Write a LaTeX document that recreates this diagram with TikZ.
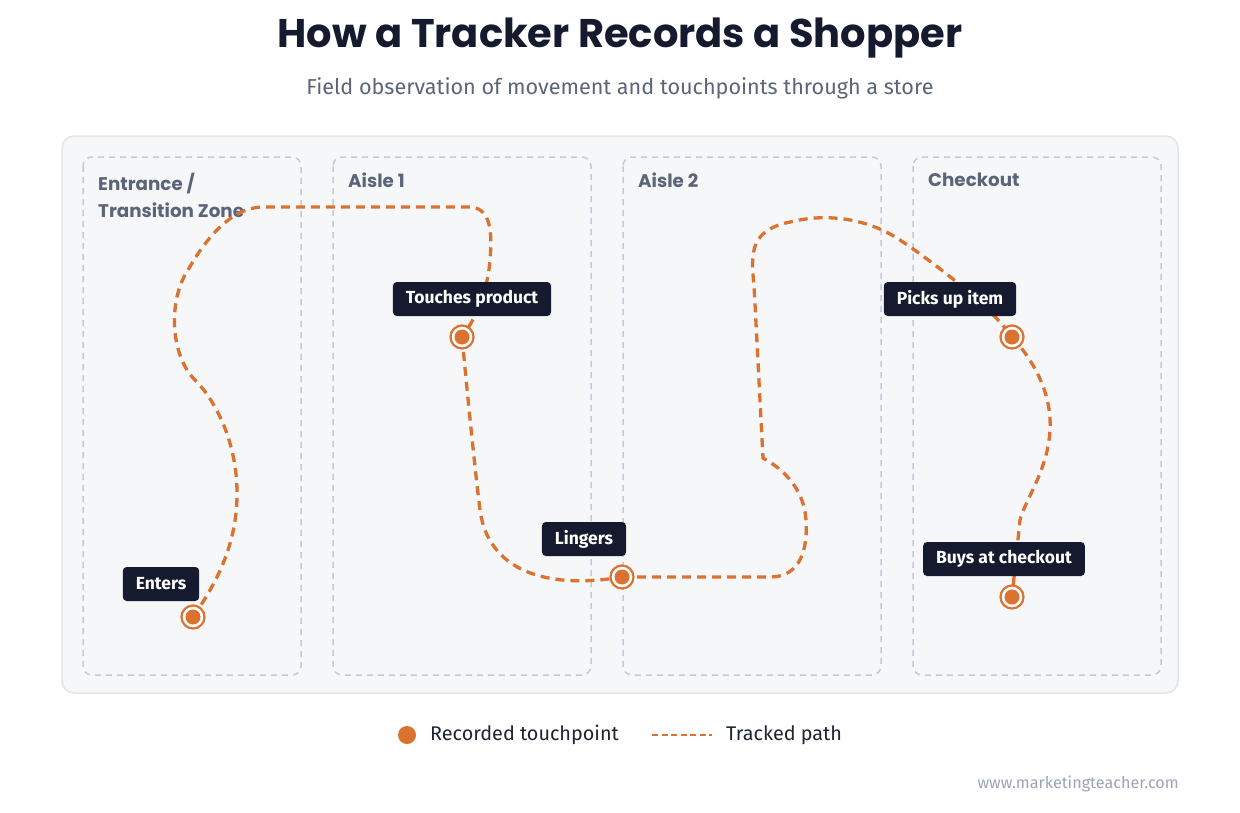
\documentclass[tikz,border=0pt]{standalone}
\usepackage{fontspec}
\setmainfont{Fira Sans}
\newfontfamily\titlefont{Poppins}
\definecolor{ink}{HTML}{151A2E}
\definecolor{trk}{HTML}{DB7230}
\definecolor{panel}{HTML}{F6F7F9}
\definecolor{panelline}{HTML}{E2E5EA}
\definecolor{zoneline}{HTML}{C5CAD8}
\definecolor{zonetext}{HTML}{5B6478}
\definecolor{subtext}{HTML}{5B6478}
\definecolor{foot}{HTML}{9BA4B8}
\definecolor{legtext}{HTML}{1F2433}
\tikzset{
  zonebox/.style={draw=zoneline, line width=1.5pt, dash pattern=on 6pt off 5pt, rounded corners=9pt},
  zonelabel/.style={anchor=north west, inner sep=0pt, text=zonetext, font=\titlefont\bfseries\fontsize{18.3}{27}\selectfont, align=left},
  lbl/.style={fill=ink, text=white, rounded corners=4pt, minimum height=34pt, inner xsep=13pt, inner ysep=0pt, font=\bfseries\fontsize{17.5}{20}\selectfont},
  tp/.style={circle, draw=trk, line width=2.2pt, fill=white, minimum size=23pt, inner sep=0pt,
    path picture={\fill[trk] (path picture bounding box.center) circle (7.5pt);}},
  trackpath/.style={draw=trk, line width=3.3pt, dash pattern=on 9pt off 6pt}
}
\begin{document}
\begin{tikzpicture}[x=1pt,y=-1pt]
\useasboundingbox (0,0) rectangle (1240,812);
\fill[white] (0,0) rectangle (1240,812);
% title
\node[font=\titlefont\bfseries\fontsize{40}{48}\selectfont, text=ink] (title) at (620,38) {How a Tracker Records a Shopper};
\node[font=\fontsize{21.6}{26}\selectfont, text=subtext] (subtitle) at (620,88) {Field observation of movement and touchpoints through a store};
% panel
\draw[fill=panel, draw=panelline, line width=1.5pt, rounded corners=12pt] (62,136) rectangle (1178,693);
% zones
\draw[zonebox] (83,157) rectangle (301,675);
\draw[zonebox] (333,157) rectangle (591,675);
\draw[zonebox] (623,157) rectangle (881,675);
\draw[zonebox] (913,157) rectangle (1161,675);
\node[zonelabel] (z1) at (98,173) {Entrance /\\Transition Zone};
\node[zonelabel] (z2) at (348,173) {Aisle 1};
\node[zonelabel] (z3) at (638,173) {Aisle 2};
\node[zonelabel] (z4) at (928,173) {Checkout};
% touchpoint coordinates
\coordinate (p1) at (193,617);
\coordinate (p2) at (462,337);
\coordinate (p3) at (622,577);
\coordinate (p4) at (1012,337);
\coordinate (p5) at (1012,597);
% path
\draw[trackpath] (p1) .. controls (215,585) and (238,545) .. (237,490)
  .. controls (236,440) and (215,400) .. (195,380)
  .. controls (170,355) and (168,300) .. (188,270)
  .. controls (205,240) and (230,208) .. (262,207)
  -- (470,207)
  .. controls (492,208) and (492,235) .. (490,260)
  .. controls (488,290) and (475,320) .. (p2);
\draw[trackpath] (p2) .. controls (468,400) and (475,470) .. (480,510)
  .. controls (488,570) and (545,590) .. (p3);
\draw[trackpath] (p3) -- (770,577)
  .. controls (800,577) and (808,550) .. (806,520)
  .. controls (804,490) and (785,470) .. (763,458)
  -- (754,285)
  .. controls (750,250) and (752,230) .. (790,222)
  .. controls (830,212) and (870,220) .. (900,240)
  .. controls (930,260) and (990,305) .. (p4);
\draw[trackpath] (p4) .. controls (1035,362) and (1052,395) .. (1050,430)
  .. controls (1048,470) and (1025,500) .. (1020,520)
  -- (p5);
% markers
\node[tp] (m1) at (p1) {};
\node[tp] (m2) at (p2) {};
\node[tp] (m3) at (p3) {};
\node[tp] (m4) at (p4) {};
\node[tp] (m5) at (p5) {};
% labels
\node[lbl] (l1) at (161,584) {Enters};
\node[lbl] (l2) at (472,299) {Touches product};
\node[lbl] (l3) at (584,539) {Lingers};
\node[lbl] (l4) at (950,299) {Picks up item};
\node[lbl] (l5) at (1004,559) {Buys at checkout};
% legend
\node[circle, fill=trk, minimum size=18pt, inner sep=0pt] (ldot) at (407,735) {};
\node[anchor=west, inner sep=0pt, text=legtext, font=\fontsize{19.8}{24}\selectfont] (ltxt1) at (430,735) {Recorded touchpoint};
\coordinate (la) at (652,735);
\coordinate (lb) at (712,735);
\draw[draw=trk, line width=2.5pt, dash pattern=on 6pt off 3.5pt] (la) -- (lb);
\node[anchor=west, inner sep=0pt, text=legtext, font=\fontsize{19.8}{24}\selectfont] (ltxt2) at (726,735) {Tracked path};
% footer
\node[anchor=east, inner sep=0pt, text=foot, font=\fontsize{16.2}{19}\selectfont] (footer) at (1179,784) {www.marketingteacher.com};
\end{tikzpicture}
\end{document}
